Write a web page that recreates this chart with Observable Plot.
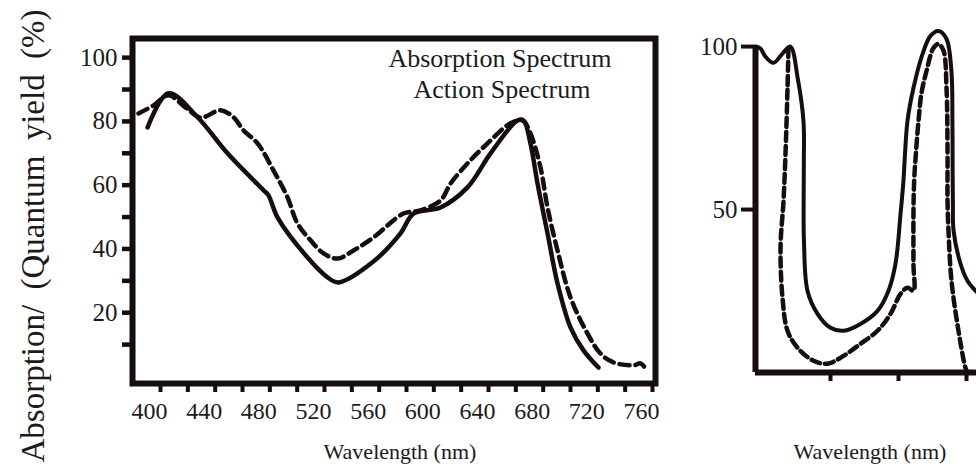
<!DOCTYPE html>
<html>
<head>
<meta charset="utf-8">
<script src="https://cdn.jsdelivr.net/npm/d3@7"></script>
<script src="https://cdn.jsdelivr.net/npm/@observablehq/plot@0.6"></script>
<style>
  html, body { margin: 0; padding: 0; background: #fff; }
  #wrap { position: relative; width: 976px; height: 470px; overflow: hidden; background: #fff; font-family: "Liberation Serif", "Times New Roman", serif; }
  #wrap svg { position: absolute; top: 0; }
  #wrap text { font-family: "Liberation Serif", "Times New Roman", serif; }
</style>
</head>
<body>
<div id="wrap"></div>
<script>
// ---------- data: left panel (wavelength nm, percent) ----------
const leftAbsorptionNm  = [390.5, 405.8, 427.1, 449.0, 475.4, 479.0, 485.6, 507.6, 522.2, 530.2, 555.1, 575.6, 585.1, 604.9, 624.6, 641.5, 661.2, 665.6, 670.7, 675.9, 683.2, 690.5, 700.0, 709.5, 720.5];
const leftAbsorptionPct = [78.1, 88.8, 81.3, 70.0, 58.4, 56.8, 49.9, 37.3, 31.1, 29.5, 35.8, 44.9, 51.1, 53.0, 59.3, 70.0, 80.3, 80.3, 73.1, 60.5, 44.9, 29.2, 15.4, 8.2, 2.8];

const leftActionNm  = [383.9, 394.9, 405.8, 418.0, 429.3, 443.9, 453.4, 460.7, 471.0, 482.7, 492.9, 500.2, 509.8, 519.3, 529.5, 541.2, 555.8, 577.8, 590.2, 604.9, 612.2, 624.6, 639.3, 656.1, 664.9, 670.7, 678.0, 683.2, 690.5, 700.0, 712.4, 721.9, 731.5, 746.1, 751.2, 754.9];
const leftActionPct = [82.5, 85.0, 88.2, 84.5, 81.2, 83.5, 81.3, 77.2, 73.1, 64.6, 56.2, 48.0, 42.7, 38.6, 37.0, 39.5, 43.6, 51.1, 52.1, 55.2, 60.5, 66.8, 73.1, 79.4, 80.3, 76.2, 65.6, 53.0, 39.5, 24.8, 13.5, 7.2, 4.4, 3.5, 4.1, 2.5];

// ---------- data: right panel (wavelength nm, percent) ----------
const rightSolidNm  = [389.7, 397, 404, 416, 430, 441, 452, 460.3, 460.8, 460.5, 461, 466.2, 480.9, 500, 519.1, 544.1, 569.1, 585.3, 595.6, 603, 607.3, 609, 613.2, 622, 635.3, 647, 658.8, 670.5, 677.8, 679.3, 679.6, 680, 681, 691.3, 701.6, 713.3, 735];
const rightSolidPct = [100, 99.4, 97, 95, 98, 100, 90, 77, 65, 52, 40, 25, 18, 13.7, 12.8, 14.9, 18.9, 25.1, 33.4, 48.7, 58.9, 65, 77.2, 87.3, 97.7, 103.3, 104.8, 102.4, 92.5, 77.2, 61.9, 52, 43.5, 33.3, 28.1, 25.1, 21];

const rightDashedNm  = [438.2, 436.8, 433.8, 430.9, 426.5, 429.4, 436.8, 451.5, 475, 495.6, 519.1, 544.1, 569.1, 588.2, 603, 613.2, 622, 622, 622, 623, 625.5, 629.4, 634, 641.2, 651.5, 658.8, 666.2, 670.6, 672.1, 672.1, 673.5, 677.9, 688.2, 698.5, 701.5];
const rightDashedPct = [99.6, 87.3, 67.1, 52.7, 38.3, 23.0, 12.8, 7.6, 3.6, 2.7, 5.1, 8.8, 12.8, 18.0, 24.1, 26.0, 25.1, 33.3, 48.7, 58.8, 67, 77.2, 86, 92.5, 99.6, 100.8, 98.7, 87.3, 67.1, 52.7, 43.5, 28.2, 12.8, 1.4, 0];

// ---------- ticks & labels ----------
const leftXTicks  = d3.range(400, 761, 20);
const leftXLabels = [400, 440, 480, 520, 560, 600, 640, 680, 720, 760];
const leftYTicks  = [10, 20, 30, 40, 50, 60, 70, 80, 90, 100];
const leftYLabels = [20, 40, 60, 80, 100];
const rightXTicks  = [500, 600, 700];
const rightYLabels = [50, 100];

const yTitle = "Absorption/ (Quantum yield (%)";
const legendLines = ["Absorption Spectrum", "Action Spectrum"];
const xTitle = "Wavelength (nm)";

const leftXDomain = [379.5, 762.2];
const leftYDomain = [-2.2, 106];
const rightXDomain = [389.7, 714.7];
const rightYDomain = [0, 108];

// ---------- styling ----------
const SERIF = "Liberation Serif, Times New Roman, serif";
const INK = "#160d0d";
const TXT = "#1e1a1a";

const zip = (xs, ys) => xs.map((x, i) => ({nm: x, pct: ys[i]}));
const leftAbs = zip(leftAbsorptionNm, leftAbsorptionPct);
const leftAct = zip(leftActionNm, leftActionPct);
const rightSolid = zip(rightSolidNm, rightSolidPct);
const rightDashed = zip(rightDashedNm, rightDashedPct);

const wrap = document.getElementById("wrap");

const left = Plot.plot({
  width: 680, height: 470,
  marginLeft: 132, marginRight: 25, marginTop: 38, marginBottom: 87,
  x: {domain: leftXDomain, label: null},
  y: {domain: leftYDomain, label: null},
  style: {fontFamily: SERIF, background: "transparent", overflow: "visible"},
  marks: [
    Plot.line(leftAbs, {x: "nm", y: "pct", stroke: INK, strokeWidth: 4.5, curve: "catmull-rom"}),
    Plot.line(leftAct, {x: "nm", y: "pct", stroke: INK, strokeWidth: 4.5, strokeDasharray: "10,6", curve: "catmull-rom"}),
    Plot.frame({stroke: INK, strokeWidth: 6}),
    Plot.axisX({ticks: leftXTicks, tickSize: 9, strokeWidth: 4, stroke: INK, tickFormat: () => "", label: null}),
    Plot.axisX({ticks: leftXLabels, tickSize: 0, tickPadding: 18, fontSize: 24, dx: -11, fill: TXT, label: null}),
    Plot.axisY({ticks: leftYTicks, tickSize: 10, strokeWidth: 4.5, stroke: INK, tickFormat: () => "", label: null}),
    Plot.axisY({ticks: leftYLabels, tickSize: 0, tickPadding: 15, fontSize: 25, fill: TXT, label: null})
  ]
});
left.style.left = "0px";
wrap.appendChild(left);

const right = Plot.plot({
  width: 296, height: 470,
  marginLeft: 75, marginRight: 0, marginTop: 20, marginBottom: 98,
  x: {domain: rightXDomain, label: null},
  y: {domain: rightYDomain, label: null},
  style: {fontFamily: SERIF, background: "transparent", overflow: "hidden"},
  marks: [
    Plot.line(rightSolid, {x: "nm", y: "pct", stroke: INK, strokeWidth: 4, curve: "catmull-rom", clip: true}),
    Plot.line(rightDashed, {x: "nm", y: "pct", stroke: INK, strokeWidth: 4.5, strokeDasharray: "9,5", curve: "catmull-rom", clip: true}),
    Plot.ruleX([rightXDomain[0]], {y1: rightYDomain[0], y2: 100, stroke: INK, strokeWidth: 6}),
    Plot.ruleY([rightYDomain[0]], {stroke: INK, strokeWidth: 6}),
    Plot.axisX({ticks: rightXTicks, tickSize: 9, strokeWidth: 4, stroke: INK, tickFormat: () => "", label: null}),
    Plot.axisY({ticks: rightYLabels, tickSize: 14, strokeWidth: 4, stroke: INK, tickPadding: 4, fontSize: 25, fill: TXT, label: null})
  ]
});
right.style.left = "680px";
wrap.appendChild(right);

// ---------- free text (titles, legend) ----------
const over = d3.create("svg").attr("width", 976).attr("height", 470)
  .style("left", "0px").style("pointer-events", "none")
  .attr("fill", TXT);

over.append("text").attr("x", 500).attr("y", 67).attr("text-anchor", "middle").attr("font-size", 26).text(legendLines[0]);
over.append("text").attr("x", 502).attr("y", 98).attr("text-anchor", "middle").attr("font-size", 26).text(legendLines[1]);

over.append("text").attr("x", 400).attr("y", 459).attr("text-anchor", "middle").attr("font-size", 22).text(xTitle);
over.append("text").attr("x", 870).attr("y", 459).attr("text-anchor", "middle").attr("font-size", 22).text(xTitle);

const yt = over.append("text")
  .attr("transform", "translate(44,236) rotate(-90)")
  .attr("text-anchor", "middle")
  .attr("font-size", 33)
  .text(yTitle);

wrap.appendChild(over.node());

// spread the words of the vertical title over the same length as the reference
const natural = yt.node().getComputedTextLength();
const gaps = yTitle.split(" ").length - 1;
const extra = Math.max(0, Math.min(30, (453 - natural) / gaps));
yt.style("word-spacing", extra.toFixed(1) + "px");
</script>
</body>
</html>
